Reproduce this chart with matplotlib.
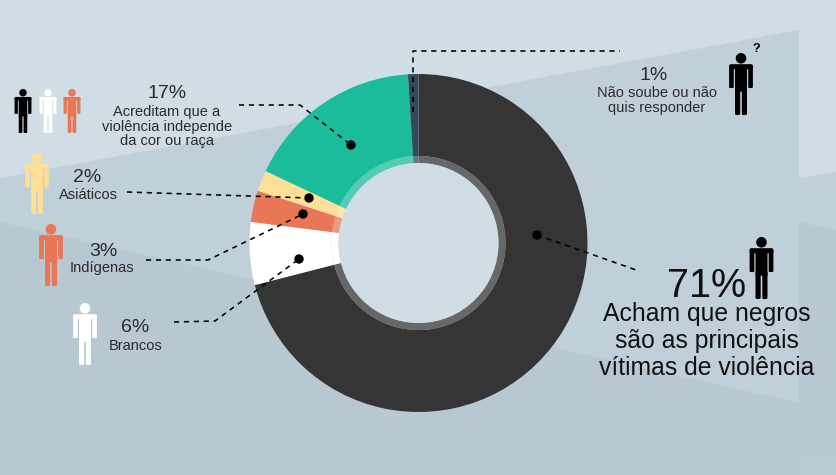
#!/usr/bin/env python3
# -*- coding: utf-8 -*-

import matplotlib
matplotlib.use('Agg')
import matplotlib.pyplot as plt
from matplotlib.patches import Polygon, Circle, FancyBboxPatch

# data, clockwise from the top of the donut
labels = ['Negros', 'Brancos', 'Indígenas', 'Asiáticos', 'Independe', 'Não soube']
values = [71, 6, 3, 2, 17, 1]
slice_colors = ['#353535', '#ffffff', '#e87657', '#fedf98', '#1abc9c', '#34495e']
pct_labels = ['71%', '6%', '3%', '2%', '17%', '1%']

W, H = 836, 475
BG = '#d0dde5'
MID = '#bfd0db'
DARK = '#b8c8d3'
CX, CY = 418.5, 243
TXT = '#2a2a2a'

plt.rcParams['font.family'] = ['Liberation Sans', 'DejaVu Sans']


def Y(y):
    return H - y


def rbox(ax, x0, x1, top, bottom, r, color, z):
    ax.add_patch(FancyBboxPatch((x0, Y(bottom)), x1 - x0, bottom - top,
                                boxstyle='round,pad=0,rounding_size=%f' % r,
                                fc=color, ec='none', zorder=z))


def person(ax, cx, top, h, color, z=6):
    # pictogram, sized from its total height
    u = h / 61.0
    ax.add_patch(Circle((cx, Y(top + 5.2 * u)), 5.2 * u, fc=color, ec='none', zorder=z))
    # shoulders
    rbox(ax, cx - 11.7 * u, cx + 11.7 * u, top + 11 * u, top + 16 * u, 1.8 * u, color, z)
    # arms
    for s in (-1, 1):
        x0 = cx + s * 9.4 * u - 2.3 * u
        rbox(ax, x0, x0 + 4.6 * u, top + 12 * u, top + 34.5 * u, 1.2 * u, color, z)
    # torso
    rbox(ax, cx - 5.9 * u, cx + 5.9 * u, top + 12 * u, top + 38 * u, 0.5 * u, color, z)
    # legs
    for s in (-1, 1):
        x0 = cx + s * 3.35 * u - 2.55 * u
        rbox(ax, x0, x0 + 5.1 * u, top + 34 * u, top + 61 * u, 1.4 * u, color, z)


def dashed(ax, pts):
    xs = [p[0] for p in pts]
    ys = [Y(p[1]) for p in pts]
    ax.plot(xs, ys, color='black', lw=1.15, dashes=(3.2, 3.0), zorder=5)


fig = plt.figure(figsize=(W / 100, H / 100), dpi=100)
ax = fig.add_axes([0, 0, 1, 1])
ax.set_facecolor(BG)

# background bands
ax.add_patch(Polygon([(0, Y(178)), (799, Y(30)), (799, Y(475)), (0, Y(475))],
                     fc=MID, ec='none', zorder=0))
ax.add_patch(Polygon([(799, Y(178)), (836, Y(172)), (836, Y(475)), (799, Y(475))],
                     fc=MID, ec='none', zorder=0))
ax.add_patch(Polygon([(0, Y(222)), (799, Y(403)), (799, Y(475)), (0, Y(475))],
                     fc=DARK, ec='none', zorder=1))
ax.add_patch(Polygon([(799, Y(222)), (836, Y(230)), (836, Y(475)), (799, Y(475))],
                     fc=DARK, ec='none', zorder=1))
ax.add_patch(Polygon([(799, Y(458)), (836, Y(456)), (836, Y(475)), (799, Y(475))],
                     fc='#bacad5', ec='none', zorder=1))

# donut
ax.pie(values, colors=slice_colors, startangle=90, counterclock=False,
       center=(CX, Y(CY)), radius=169, frame=True,
       wedgeprops=dict(width=169 - 87, linewidth=0))
ax.pie(values, colors=slice_colors, startangle=90, counterclock=False,
       center=(CX, Y(CY)), radius=87, frame=True,
       wedgeprops=dict(width=7, linewidth=0))
ax.pie(values, colors=['white'] * len(values), startangle=90, counterclock=False,
       center=(CX, Y(CY)), radius=87, frame=True,
       wedgeprops=dict(width=7, linewidth=0, alpha=0.25))
ax.add_patch(Circle((CX, Y(CY)), 80, fc=BG, ec='none', zorder=4))

ax.set_xlim(0, W)
ax.set_ylim(0, H)
ax.set_aspect('auto')
ax.axis('off')
fig.patch.set_facecolor(BG)

# leader lines and dots
dashed(ax, [(537, 235), (639, 271)])
dashed(ax, [(413, 112), (413, 51), (620, 51)])
dashed(ax, [(239, 105), (300, 105), (351, 145)])
dashed(ax, [(127, 192), (309, 198)])
dashed(ax, [(146, 260), (208, 260), (303, 214)])
dashed(ax, [(174, 322), (215, 321), (299, 259)])
for dx, dy in [(537, 235), (351, 145), (309, 198), (303, 214), (299, 259)]:
    ax.add_patch(Circle((dx, Y(dy)), 4.7, fc='black', ec='none', zorder=6))

# pictograms
for cx, top, h, col in [(23, 89, 44, 'black'), (48, 89, 44, 'white'),
                        (72, 89, 44, '#e87657'), (37, 153, 61, '#fedf98'),
                        (51, 224, 62, '#e87657'), (85, 303, 62, 'white'),
                        (741, 53, 62, 'black'), (761.5, 237, 62, 'black')]:
    person(ax, cx, top, h, col)


# texts
def label(x, y, s, size, color=TXT, ls=1.06):
    ax.text(x, Y(y), s, fontsize=size, color=color, ha='center', va='center',
            linespacing=ls, zorder=7)


label(167, 93.5, pct_labels[4], 14)
label(167, 126.5, 'Acreditam que a\nviolência independe\nda cor ou raça', 10.5, ls=1.08)
label(87, 178, pct_labels[3], 14)
label(88, 195, 'Asiáticos', 10.5)
label(103, 251, pct_labels[2], 14)
label(102, 268, 'Indígenas', 10.5)
label(135, 328, pct_labels[1], 14)
label(136, 346, 'Brancos', 10.5)
label(654, 75, pct_labels[5], 14)
label(657, 100.5, 'Não soube ou não\nquis responder', 10.5, ls=1.08)
ax.text(756, Y(49), '?', fontsize=9, fontweight='bold', color='black', ha='center',
        va='center', zorder=7)
label(707, 286, pct_labels[0], 28.5, color='#111111')
label(707, 341, 'Acham que negros\nsão as principais\nvítimas de violência', 17.8,
      color='#111111', ls=1.14)

fig.savefig('out.png', dpi=100, facecolor=BG)
